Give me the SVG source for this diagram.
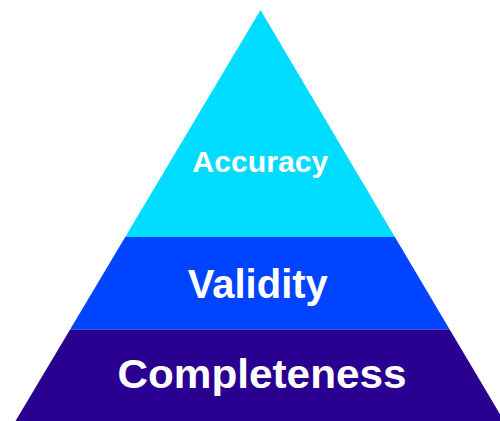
<svg xmlns="http://www.w3.org/2000/svg" width="500" height="421" viewBox="0 0 500 421">
<style>
text{font-family:"Liberation Sans",Arial,sans-serif;font-weight:bold;fill:#ffffff;text-anchor:middle}
</style>
<rect width="500" height="421" fill="#ffffff"/>
<g id="accuracy">
<polygon points="260.5,10 394.9,237 125.2,237" fill="#00DCFF"/>
<text x="260.3" y="171.5" font-size="30.2">Accuracy</text>
</g>
<g id="validity">
<polygon points="125.2,237 394.9,237 449.7,329.5 70.1,329.5" fill="#0044FF"/>
<text x="257.8" y="298.3" font-size="40">Validity</text>
</g>
<g id="completeness">
<polygon points="70.1,329.5 449.7,329.5 504,421 15.5,421" fill="#2A0090"/>
<text x="262" y="388.3" font-size="40" textLength="289" lengthAdjust="spacingAndGlyphs">Completeness</text>
</g>
<g id="connectors"/>
</svg>
